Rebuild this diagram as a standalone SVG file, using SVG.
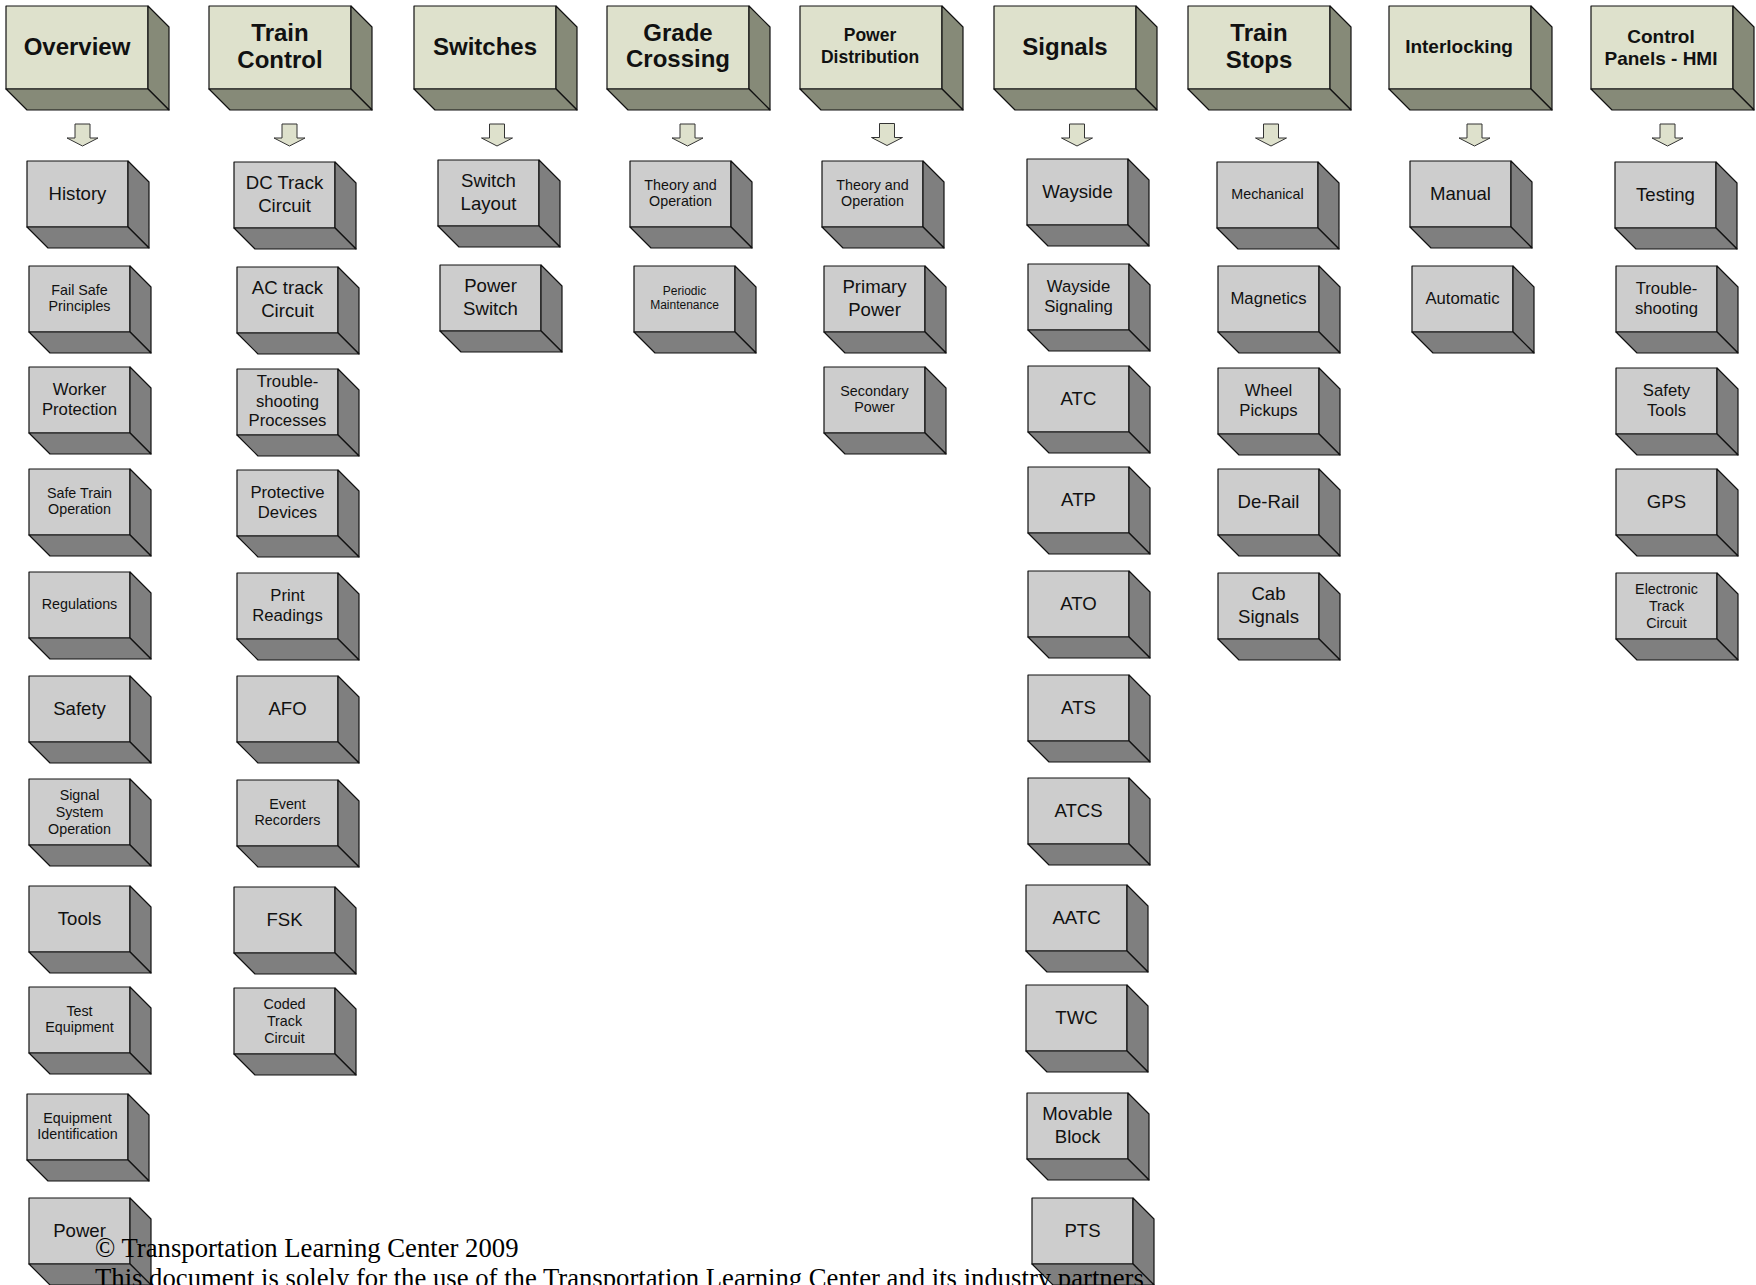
<svg xmlns="http://www.w3.org/2000/svg" xmlns:xlink="http://www.w3.org/1999/xlink" width="1756" height="1285" viewBox="0 0 1756 1285">
<style>
.hf{fill:#DEE1CC;stroke:#111;stroke-width:1.2;stroke-linejoin:round}
.hs{fill:#868A78;stroke:#111;stroke-width:1.2;stroke-linejoin:round}
.cf{fill:#CDCDCD;stroke:#111;stroke-width:1.2;stroke-linejoin:round}
.cs{fill:#7F7F7F;stroke:#111;stroke-width:1.2;stroke-linejoin:round}
.ar{fill:#DEE1CC;stroke:#333;stroke-width:1}
text{font-family:"Liberation Sans",Arial,sans-serif;text-anchor:middle;fill:#111}
.H{font-weight:bold;font-size:24px}
.HP{font-weight:bold;font-size:17.5px}
.HM{font-weight:bold;font-size:19px}
.L{font-size:18.6px}
.M{font-size:16.7px}
.S{font-size:14.3px}
.T{font-size:12px}
.foot{font-family:"Liberation Serif","Times New Roman",serif;font-size:26.7px;text-anchor:start;fill:#000}
</style>
<defs>
<g id="hb">
<rect class="hf" x="0" y="0" width="142" height="83"/>
<polygon class="hs" points="142,0 163,21 163,104 142,83"/>
<polygon class="hs" points="0,83 142,83 163,104 21,104"/>
</g>
<g id="cb">
<rect class="cf" x="0" y="0" width="101" height="66"/>
<polygon class="cs" points="101,0 122,21 122,87 101,66"/>
<polygon class="cs" points="0,66 101,66 122,87 21,87"/>
</g>
<path id="arw" class="ar" d="M-7.5,0 H7.5 V14 H15.5 L0,22 L-15.5,14 H-7.5 Z"/>
</defs>

<g id="connectors">
<use xlink:href="#arw" href="#arw" x="82.5" y="124"/>
<use xlink:href="#arw" href="#arw" x="289.5" y="124"/>
<use xlink:href="#arw" href="#arw" x="497" y="124"/>
<use xlink:href="#arw" href="#arw" x="687.5" y="124"/>
<use xlink:href="#arw" href="#arw" x="887" y="123.5"/>
<use xlink:href="#arw" href="#arw" x="1077" y="124"/>
<use xlink:href="#arw" href="#arw" x="1271" y="124"/>
<use xlink:href="#arw" href="#arw" x="1474.5" y="124"/>
<use xlink:href="#arw" href="#arw" x="1667.5" y="124"/>
</g>

<!-- Headers -->
<g id="h-overview" transform="translate(6,6)"><use xlink:href="#hb" href="#hb"/><text class="H" x="71" y="49">Overview</text></g>
<g id="h-train-control" transform="translate(209,6)"><use xlink:href="#hb" href="#hb"/><text class="H"><tspan x="71" y="34.5">Train</tspan><tspan x="71" y="61.5">Control</tspan></text></g>
<g id="h-switches" transform="translate(414,6)"><use xlink:href="#hb" href="#hb"/><text class="H" x="71" y="49">Switches</text></g>
<g id="h-grade-crossing" transform="translate(607,6)"><use xlink:href="#hb" href="#hb"/><text class="H"><tspan x="71" y="35">Grade</tspan><tspan x="71" y="61">Crossing</tspan></text></g>
<g id="h-power-distribution" transform="translate(800,6)"><use xlink:href="#hb" href="#hb"/><text class="HP"><tspan x="70" y="34.7">Power</tspan><tspan x="70" y="57.3">Distribution</tspan></text></g>
<g id="h-signals" transform="translate(994,6)"><use xlink:href="#hb" href="#hb"/><text class="H" x="71" y="49">Signals</text></g>
<g id="h-train-stops" transform="translate(1188,6)"><use xlink:href="#hb" href="#hb"/><text class="H"><tspan x="71" y="34.5">Train</tspan><tspan x="71" y="61.5">Stops</tspan></text></g>
<g id="h-interlocking" transform="translate(1389,6)"><use xlink:href="#hb" href="#hb"/><text class="HM" x="70" y="47">Interlocking</text></g>
<g id="h-control-panels" transform="translate(1591,6)"><use xlink:href="#hb" href="#hb"/><text class="HM"><tspan x="70" y="36.5">Control</tspan><tspan x="70" y="59">Panels - HMI</tspan></text></g>

<!-- Overview column -->
<g id="c-history" transform="translate(27,161)"><use xlink:href="#cb" href="#cb"/><text class="L" x="50.5" y="38.5">History</text></g>
<g id="c-fail-safe" transform="translate(29,266)"><use xlink:href="#cb" href="#cb"/><text class="S"><tspan x="50.5" y="28.5">Fail Safe</tspan><tspan x="50.5" y="45.2">Principles</tspan></text></g>
<g id="c-worker-protection" transform="translate(29,367)"><use xlink:href="#cb" href="#cb"/><text class="M"><tspan x="50.5" y="28">Worker</tspan><tspan x="50.5" y="47.5">Protection</tspan></text></g>
<g id="c-safe-train" transform="translate(29,469)"><use xlink:href="#cb" href="#cb"/><text class="S"><tspan x="50.5" y="28.5">Safe Train</tspan><tspan x="50.5" y="45.2">Operation</tspan></text></g>
<g id="c-regulations" transform="translate(29,572)"><use xlink:href="#cb" href="#cb"/><text class="S" x="50.5" y="37">Regulations</text></g>
<g id="c-safety" transform="translate(29,676)"><use xlink:href="#cb" href="#cb"/><text class="L" x="50.5" y="38.5">Safety</text></g>
<g id="c-signal-system" transform="translate(29,779)"><use xlink:href="#cb" href="#cb"/><text class="S"><tspan x="50.5" y="20.5">Signal</tspan><tspan x="50.5" y="37.5">System</tspan><tspan x="50.5" y="54.5">Operation</tspan></text></g>
<g id="c-tools" transform="translate(29,886)"><use xlink:href="#cb" href="#cb"/><text class="L" x="50.5" y="38.5">Tools</text></g>
<g id="c-test-equipment" transform="translate(29,987)"><use xlink:href="#cb" href="#cb"/><text class="S"><tspan x="50.5" y="28.5">Test</tspan><tspan x="50.5" y="45.2">Equipment</tspan></text></g>
<g id="c-equipment-id" transform="translate(27,1094)"><use xlink:href="#cb" href="#cb"/><text class="S"><tspan x="50.5" y="28.5">Equipment</tspan><tspan x="50.5" y="45.2">Identification</tspan></text></g>
<g id="c-power" transform="translate(29,1198)"><use xlink:href="#cb" href="#cb"/><text class="L" x="50.5" y="38.5">Power</text></g>

<!-- Train Control column -->
<g id="c-dc-track" transform="translate(234,162)"><use xlink:href="#cb" href="#cb"/><text class="L"><tspan x="50.5" y="26.5">DC Track</tspan><tspan x="50.5" y="49.5">Circuit</tspan></text></g>
<g id="c-ac-track" transform="translate(237,267)"><use xlink:href="#cb" href="#cb"/><text class="L"><tspan x="50.5" y="26.5">AC track</tspan><tspan x="50.5" y="49.5">Circuit</tspan></text></g>
<g id="c-troubleshooting-processes" transform="translate(237,369)"><use xlink:href="#cb" href="#cb"/><text class="M"><tspan x="50.5" y="18">Trouble-</tspan><tspan x="50.5" y="37.5">shooting</tspan><tspan x="50.5" y="57">Processes</tspan></text></g>
<g id="c-protective-devices" transform="translate(237,470)"><use xlink:href="#cb" href="#cb"/><text class="M"><tspan x="50.5" y="28">Protective</tspan><tspan x="50.5" y="47.5">Devices</tspan></text></g>
<g id="c-print-readings" transform="translate(237,573)"><use xlink:href="#cb" href="#cb"/><text class="M"><tspan x="50.5" y="28">Print</tspan><tspan x="50.5" y="47.5">Readings</tspan></text></g>
<g id="c-afo" transform="translate(237,676)"><use xlink:href="#cb" href="#cb"/><text class="L" x="50.5" y="38.5">AFO</text></g>
<g id="c-event-recorders" transform="translate(237,780)"><use xlink:href="#cb" href="#cb"/><text class="S"><tspan x="50.5" y="28.5">Event</tspan><tspan x="50.5" y="45.2">Recorders</tspan></text></g>
<g id="c-fsk" transform="translate(234,887)"><use xlink:href="#cb" href="#cb"/><text class="L" x="50.5" y="38.5">FSK</text></g>
<g id="c-coded-track" transform="translate(234,988)"><use xlink:href="#cb" href="#cb"/><text class="S"><tspan x="50.5" y="20.5">Coded</tspan><tspan x="50.5" y="37.5">Track</tspan><tspan x="50.5" y="54.5">Circuit</tspan></text></g>

<!-- Switches column -->
<g id="c-switch-layout" transform="translate(438,160)"><use xlink:href="#cb" href="#cb"/><text class="L"><tspan x="50.5" y="26.5">Switch</tspan><tspan x="50.5" y="49.5">Layout</tspan></text></g>
<g id="c-power-switch" transform="translate(440,265)"><use xlink:href="#cb" href="#cb"/><text class="L"><tspan x="50.5" y="26.5">Power</tspan><tspan x="50.5" y="49.5">Switch</tspan></text></g>

<!-- Grade Crossing column -->
<g id="c-gc-theory" transform="translate(630,161)"><use xlink:href="#cb" href="#cb"/><text class="S"><tspan x="50.5" y="28.5">Theory and</tspan><tspan x="50.5" y="45.2">Operation</tspan></text></g>
<g id="c-periodic-maintenance" transform="translate(634,266)"><use xlink:href="#cb" href="#cb"/><text class="T"><tspan x="50.5" y="29">Periodic</tspan><tspan x="50.5" y="43">Maintenance</tspan></text></g>

<!-- Power Distribution column -->
<g id="c-pd-theory" transform="translate(822,161)"><use xlink:href="#cb" href="#cb"/><text class="S"><tspan x="50.5" y="28.5">Theory and</tspan><tspan x="50.5" y="45.2">Operation</tspan></text></g>
<g id="c-primary-power" transform="translate(824,266)"><use xlink:href="#cb" href="#cb"/><text class="L"><tspan x="50.5" y="26.5">Primary</tspan><tspan x="50.5" y="49.5">Power</tspan></text></g>
<g id="c-secondary-power" transform="translate(824,367)"><use xlink:href="#cb" href="#cb"/><text class="S"><tspan x="50.5" y="28.5">Secondary</tspan><tspan x="50.5" y="45.2">Power</tspan></text></g>

<!-- Signals column -->
<g id="c-wayside" transform="translate(1027,159)"><use xlink:href="#cb" href="#cb"/><text class="L" x="50.5" y="38.5">Wayside</text></g>
<g id="c-wayside-signaling" transform="translate(1028,264)"><use xlink:href="#cb" href="#cb"/><text class="M"><tspan x="50.5" y="28">Wayside</tspan><tspan x="50.5" y="47.5">Signaling</tspan></text></g>
<g id="c-atc" transform="translate(1028,366)"><use xlink:href="#cb" href="#cb"/><text class="L" x="50.5" y="38.5">ATC</text></g>
<g id="c-atp" transform="translate(1028,467)"><use xlink:href="#cb" href="#cb"/><text class="L" x="50.5" y="38.5">ATP</text></g>
<g id="c-ato" transform="translate(1028,571)"><use xlink:href="#cb" href="#cb"/><text class="L" x="50.5" y="38.5">ATO</text></g>
<g id="c-ats" transform="translate(1028,675)"><use xlink:href="#cb" href="#cb"/><text class="L" x="50.5" y="38.5">ATS</text></g>
<g id="c-atcs" transform="translate(1028,778)"><use xlink:href="#cb" href="#cb"/><text class="L" x="50.5" y="38.5">ATCS</text></g>
<g id="c-aatc" transform="translate(1026,885)"><use xlink:href="#cb" href="#cb"/><text class="L" x="50.5" y="38.5">AATC</text></g>
<g id="c-twc" transform="translate(1026,985)"><use xlink:href="#cb" href="#cb"/><text class="L" x="50.5" y="38.5">TWC</text></g>
<g id="c-movable-block" transform="translate(1027,1093)"><use xlink:href="#cb" href="#cb"/><text class="L"><tspan x="50.5" y="26.5">Movable</tspan><tspan x="50.5" y="49.5">Block</tspan></text></g>
<g id="c-pts" transform="translate(1032,1198)"><use xlink:href="#cb" href="#cb"/><text class="L" x="50.5" y="38.5">PTS</text></g>

<!-- Train Stops column -->
<g id="c-mechanical" transform="translate(1217,162)"><use xlink:href="#cb" href="#cb"/><text class="S" x="50.5" y="37">Mechanical</text></g>
<g id="c-magnetics" transform="translate(1218,266)"><use xlink:href="#cb" href="#cb"/><text class="M" x="50.5" y="37.5">Magnetics</text></g>
<g id="c-wheel-pickups" transform="translate(1218,368)"><use xlink:href="#cb" href="#cb"/><text class="M"><tspan x="50.5" y="28">Wheel</tspan><tspan x="50.5" y="47.5">Pickups</tspan></text></g>
<g id="c-de-rail" transform="translate(1218,469)"><use xlink:href="#cb" href="#cb"/><text class="L" x="50.5" y="38.5">De-Rail</text></g>
<g id="c-cab-signals" transform="translate(1218,573)"><use xlink:href="#cb" href="#cb"/><text class="L"><tspan x="50.5" y="26.5">Cab</tspan><tspan x="50.5" y="49.5">Signals</tspan></text></g>

<!-- Interlocking column -->
<g id="c-manual" transform="translate(1410,161)"><use xlink:href="#cb" href="#cb"/><text class="L" x="50.5" y="38.5">Manual</text></g>
<g id="c-automatic" transform="translate(1412,266)"><use xlink:href="#cb" href="#cb"/><text class="M" x="50.5" y="37.5">Automatic</text></g>

<!-- Control Panels column -->
<g id="c-testing" transform="translate(1615,162)"><use xlink:href="#cb" href="#cb"/><text class="L" x="50.5" y="38.5">Testing</text></g>
<g id="c-troubleshooting" transform="translate(1616,266)"><use xlink:href="#cb" href="#cb"/><text class="M"><tspan x="50.5" y="28">Trouble-</tspan><tspan x="50.5" y="47.5">shooting</tspan></text></g>
<g id="c-safety-tools" transform="translate(1616,368)"><use xlink:href="#cb" href="#cb"/><text class="M"><tspan x="50.5" y="28">Safety</tspan><tspan x="50.5" y="47.5">Tools</tspan></text></g>
<g id="c-gps" transform="translate(1616,469)"><use xlink:href="#cb" href="#cb"/><text class="L" x="50.5" y="38.5">GPS</text></g>
<g id="c-electronic-track" transform="translate(1616,573)"><use xlink:href="#cb" href="#cb"/><text class="S"><tspan x="50.5" y="20.5">Electronic</tspan><tspan x="50.5" y="37.5">Track</tspan><tspan x="50.5" y="54.5">Circuit</tspan></text></g>

<!-- Footer -->
<g id="footer">
<text class="foot" x="95" y="1257">© Transportation Learning Center 2009</text>
<text class="foot" x="95" y="1287">This document is solely for the use of the Transportation Learning Center and its industry partners</text>
</g>
</svg>
